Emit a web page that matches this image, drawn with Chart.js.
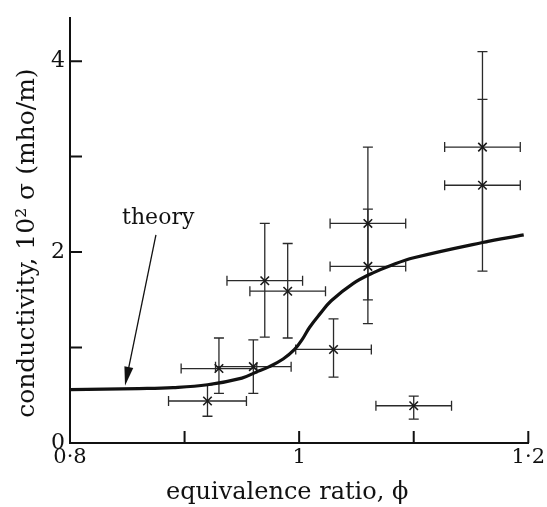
<!DOCTYPE html>
<html>
<head>
<meta charset="utf-8">
<script src="https://cdn.jsdelivr.net/npm/chart.js@4/dist/chart.umd.min.js"></script>
<style>
  html, body { margin: 0; padding: 0; background: #fff; }
  #wrap { width: 547px; height: 507px; }
</style>
</head>
<body>
<div id="wrap"><canvas id="chart" width="547" height="507"></canvas></div>
<script>
// measured points (phi, 10^2 sigma) with error ranges
const phi       = [0.92, 0.93, 0.96, 0.97, 0.99, 1.03, 1.06, 1.06, 1.10, 1.16, 1.16];
const phiErr    = [0.034, 0.033, 0.033, 0.033, 0.033, 0.033, 0.033, 0.033, 0.033, 0.033, 0.033];
const sigma     = [0.44, 0.78, 0.80, 1.70, 1.59, 0.98, 2.30, 1.85, 0.39, 3.10, 2.70];
const sigmaLow  = [0.28, 0.52, 0.52, 1.11, 1.10, 0.69, 1.50, 1.25, 0.25, 2.10, 1.80];
const sigmaHigh = [0.61, 1.10, 1.08, 2.30, 2.09, 1.30, 3.10, 2.45, 0.49, 4.10, 3.60];

// theory curve
const theoryPhi   = [0.80, 0.86, 0.89, 0.92, 0.95, 0.962, 0.974, 0.986, 0.996, 1.003, 1.009, 1.018, 1.028, 1.047, 1.064, 1.080, 1.100, 1.16, 1.196];
const theorySigma = [0.56, 0.57, 0.58, 0.61, 0.68, 0.74, 0.80, 0.88, 0.98, 1.09, 1.21, 1.35, 1.49, 1.67, 1.78, 1.86, 1.94, 2.10, 2.18];

// axes
const xTicks = [0.8, 0.9, 1.0, 1.1, 1.2];
const xLabels = { '0.8': '0·8', '1': '1', '1.2': '1·2' };
const yTicks = [0, 1, 2, 3, 4];
const yLabels = { '0': '0', '2': '2', '4': '4' };

// annotation: "theory" label and arrow (data coords)
const noteText = 'theory';
const notePos = [0.877, 2.35];
const arrowFrom = [0.875, 2.18];
const arrowTo = [0.848, 0.60];

const serif = 'DejaVu Serif';
const ink = '#111';

const extras = {
    id: 'extras',
    beforeDatasetsDraw(chart) {
        const { ctx, scales: { x, y } } = chart;
        ctx.save();
        ctx.strokeStyle = '#2a2a2a';
        ctx.lineWidth = 1.3;
        phi.forEach((p, i) => {
            const px = x.getPixelForValue(p), py = y.getPixelForValue(sigma[i]);
            const x0 = x.getPixelForValue(p - phiErr[i]), x1 = x.getPixelForValue(p + phiErr[i]);
            const y0 = y.getPixelForValue(sigmaLow[i]), y1 = y.getPixelForValue(sigmaHigh[i]);
            ctx.beginPath();
            ctx.moveTo(x0, py); ctx.lineTo(x1, py);
            ctx.moveTo(x0, py - 5); ctx.lineTo(x0, py + 5);
            ctx.moveTo(x1, py - 5); ctx.lineTo(x1, py + 5);
            ctx.moveTo(px, y0); ctx.lineTo(px, y1);
            ctx.moveTo(px - 5, y0); ctx.lineTo(px + 5, y0);
            ctx.moveTo(px - 5, y1); ctx.lineTo(px + 5, y1);
            ctx.stroke();
        });
        ctx.restore();
    },
    afterDraw(chart) {
        const { ctx, scales: { x, y } } = chart;
        ctx.save();
        // inner tick marks
        ctx.strokeStyle = ink;
        ctx.lineWidth = 2;
        const bottom = y.getPixelForValue(0), left = x.getPixelForValue(0.8);
        ctx.beginPath();
        xTicks.slice(1).forEach(v => {
            const px = x.getPixelForValue(v);
            ctx.moveTo(px, bottom); ctx.lineTo(px, bottom - 12);
        });
        yTicks.slice(1).forEach(v => {
            const py = y.getPixelForValue(v);
            ctx.moveTo(left, py); ctx.lineTo(left + 12, py);
        });
        ctx.stroke();

        // arrow
        const ax0 = x.getPixelForValue(arrowFrom[0]), ay0 = y.getPixelForValue(arrowFrom[1]);
        const ax1 = x.getPixelForValue(arrowTo[0]), ay1 = y.getPixelForValue(arrowTo[1]);
        const ang = Math.atan2(ay1 - ay0, ax1 - ax0);
        ctx.lineWidth = 1.3;
        ctx.beginPath();
        ctx.moveTo(ax0, ay0); ctx.lineTo(ax1 - 14 * Math.cos(ang), ay1 - 14 * Math.sin(ang));
        ctx.stroke();
        ctx.fillStyle = ink;
        ctx.beginPath();
        ctx.moveTo(ax1, ay1);
        ctx.lineTo(ax1 - 19 * Math.cos(ang) + 4.5 * Math.sin(ang), ay1 - 19 * Math.sin(ang) - 4.5 * Math.cos(ang));
        ctx.lineTo(ax1 - 19 * Math.cos(ang) - 4.5 * Math.sin(ang), ay1 - 19 * Math.sin(ang) + 4.5 * Math.cos(ang));
        ctx.closePath();
        ctx.fill();

        // label
        ctx.font = '22px "' + serif + '"';
        ctx.textAlign = 'center';
        ctx.textBaseline = 'middle';
        ctx.fillText(noteText, x.getPixelForValue(notePos[0]), y.getPixelForValue(notePos[1]));
        ctx.restore();
    }
};

document.addEventListener('DOMContentLoaded', () => {
    const ctx = document.getElementById('chart').getContext('2d');

    new Chart(ctx, {
        type: 'scatter',
        data: {
            datasets: [
                {
                    label: 'theory',
                    type: 'line',
                    data: theoryPhi.map((v, i) => ({ x: v, y: theorySigma[i] })),
                    borderColor: ink,
                    borderWidth: 3.2,
                    pointRadius: 0,
                    tension: 0.4,
                    fill: false
                },
                {
                    label: 'measured',
                    data: phi.map((v, i) => ({ x: v, y: sigma[i] })),
                    pointStyle: 'crossRot',
                    pointRadius: 6,
                    borderWidth: 1.6,
                    borderColor: '#1a1a1a',
                    backgroundColor: '#1a1a1a'
                }
            ]
        },
        options: {
            responsive: false,
            animation: false,
            layout: { padding: { top: 15, right: 17, left: 0, bottom: 0 } },
            plugins: { legend: { display: false }, tooltip: { enabled: false } },
            scales: {
                x: {
                    type: 'linear',
                    min: 0.8,
                    max: 1.2,
                    afterBuildTicks: s => { s.ticks = xTicks.map(v => ({ value: v })); },
                    afterFit: s => { s.height = 64; },
                    ticks: {
                        autoSkip: false,
                        maxRotation: 0,
                        padding: 2,
                        color: ink,
                        font: { family: serif, size: 21 },
                        callback: v => xLabels[String(Math.round(v * 10) / 10)] || ''
                    },
                    grid: { drawOnChartArea: false, drawTicks: false },
                    border: { color: ink, width: 2 },
                    title: {
                        display: true,
                        text: 'equivalence ratio, ϕ\u2002\u2002',
                        color: ink,
                        font: { family: serif, size: 24 },
                        padding: { top: 2, bottom: 0 }
                    }
                },
                y: {
                    min: 0,
                    max: 4.45,
                    afterBuildTicks: s => { s.ticks = yTicks.map(v => ({ value: v })); },
                    afterFit: s => { s.width = 70; },
                    ticks: {
                        padding: 5,
                        color: ink,
                        font: { family: serif, size: 22 },
                        callback: v => yLabels[String(v)] || ''
                    },
                    grid: { drawOnChartArea: false, drawTicks: false },
                    border: { color: ink, width: 2 },
                    title: {
                        display: true,
                        text: 'conductivity, 10² σ (mho/m)\u2002\u2002',
                        color: ink,
                        font: { family: serif, size: 25 },
                        padding: { top: 12, bottom: 0 }
                    }
                }
            }
        },
        plugins: [extras]
    });
});
</script>
</body>
</html>
